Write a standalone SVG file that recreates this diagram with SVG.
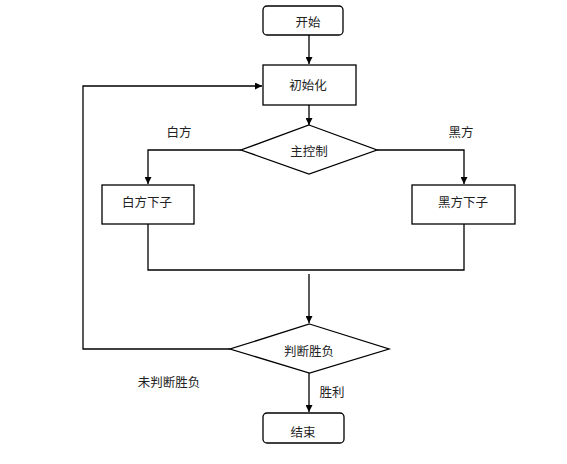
<svg xmlns="http://www.w3.org/2000/svg" width="567" height="464" viewBox="0 0 567 464">
<style>
.n{fill:#fff;stroke:#000;stroke-width:1.3}
.c{fill:none;stroke:#000;stroke-width:1.3}
text{font-family:"Noto Sans CJK SC","Liberation Sans",sans-serif;font-size:12.5px;fill:#222;text-anchor:middle;dominant-baseline:central}
</style>
<defs>
<marker id="a" viewBox="0 0 10 10" refX="10" refY="5" markerWidth="7" markerHeight="7" orient="auto" markerUnits="userSpaceOnUse"><path d="M0,0 L10,5 L0,10 Z" fill="#000"/></marker>
</defs>
<rect width="567" height="464" fill="#fff"/>
<g id="connectors">
<path class="c" d="M309,35 V64" marker-end="url(#a)"/>
<path class="c" d="M309,105 V125" marker-end="url(#a)"/>
<path class="c" d="M241,150 H148 V184" marker-end="url(#a)"/>
<path class="c" d="M377,150 H464 V184" marker-end="url(#a)"/>
<path class="c" d="M148,224 V270 H464 V224"/>
<path class="c" d="M309,274 V323" marker-end="url(#a)"/>
<path class="c" d="M230,349 H83 V86 H262" marker-end="url(#a)"/>
<path class="c" d="M309,373 V412" marker-end="url(#a)"/>
<text x="179" y="131">白方</text>
<text x="461" y="131">黑方</text>
<text x="169" y="381">未判断胜负</text>
<text x="332" y="391">胜利</text>
</g>
<g id="start"><rect class="n" x="263" y="6" width="80" height="29" rx="4"/><text x="308" y="21">开始</text></g>
<g id="init"><rect class="n" x="263" y="65" width="93" height="40"/><text x="308" y="84">初始化</text></g>
<g id="main"><path class="n" d="M309,125 L377,150 L309,174 L241,150 Z"/><text x="309" y="150">主控制</text></g>
<g id="white"><rect class="n" x="102" y="185" width="92" height="39"/><text x="147" y="201">白方下子</text></g>
<g id="black"><rect class="n" x="412" y="185" width="103" height="39"/><text x="463" y="201">黑方下子</text></g>
<g id="judge"><path class="n" d="M309.5,324 L389,349 L309.5,373 L230,349 Z"/><text x="309" y="350">判断胜负</text></g>
<g id="end"><rect class="n" x="263" y="413" width="81" height="30" rx="4"/><text x="303" y="431">结束</text></g>
</svg>
